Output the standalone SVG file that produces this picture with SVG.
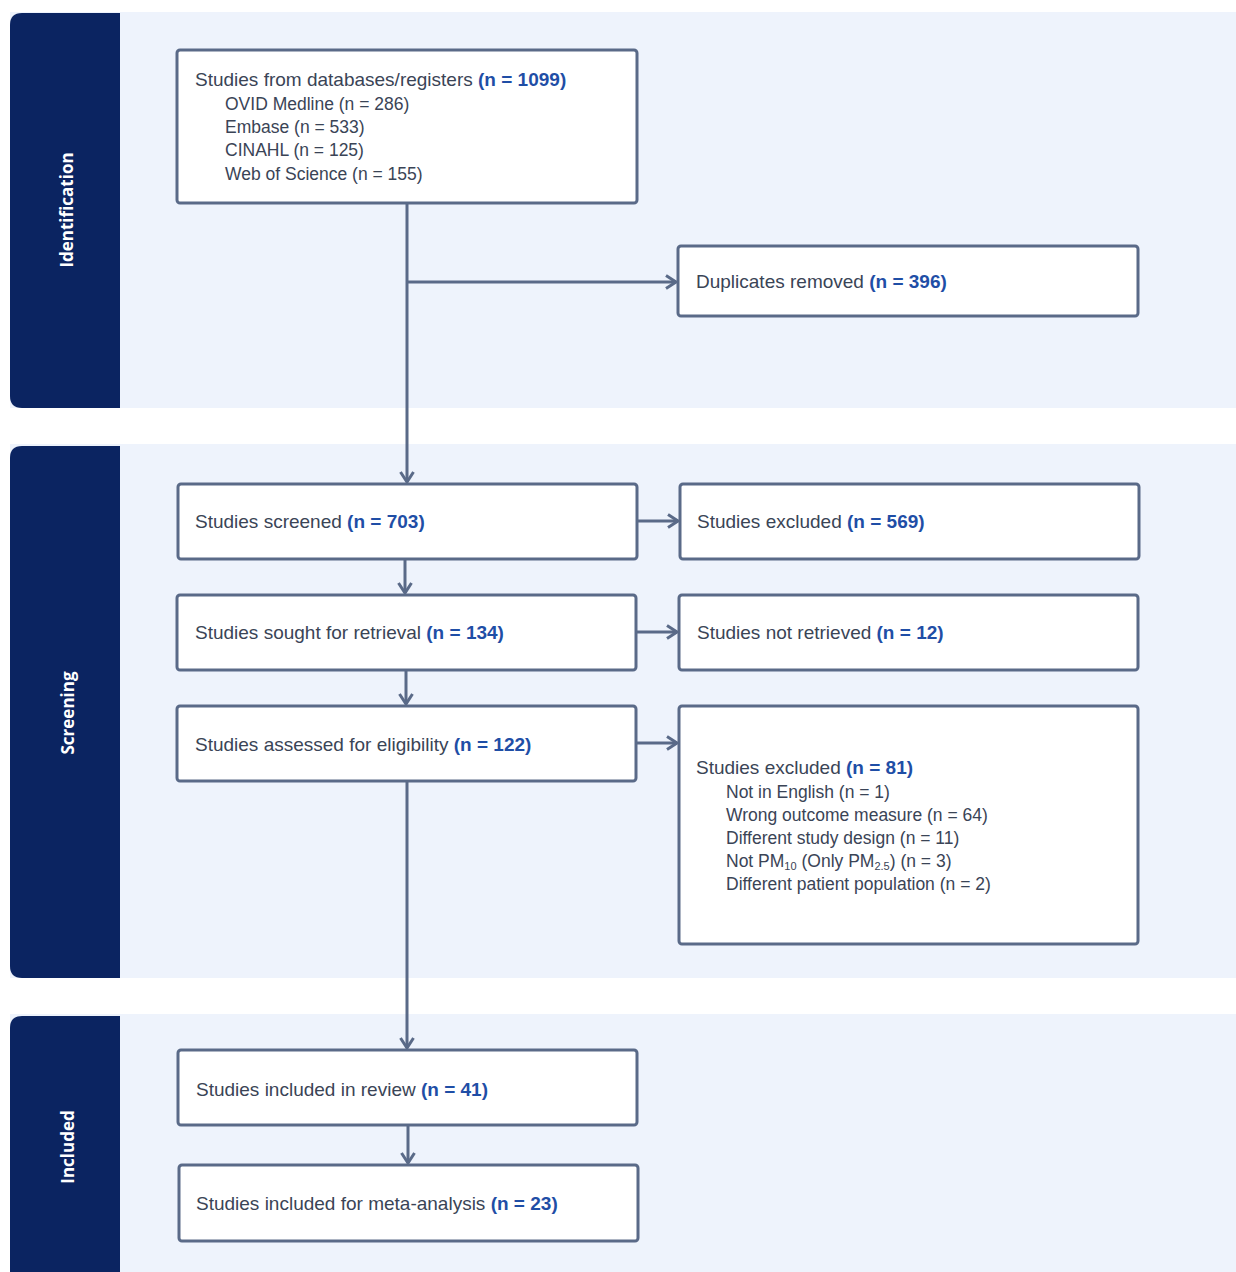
<svg xmlns="http://www.w3.org/2000/svg" width="1236" height="1272" viewBox="0 0 1236 1272">
<defs>
<style>
.band{fill:#eef3fc}
.side{fill:#0b2461}
.box{fill:#ffffff;stroke:#5a6a88;stroke-width:3}
.lbl{font-family:"Liberation Sans",Arial,sans-serif;font-size:19px;fill:#3a4456}
.sub{font-size:17.5px}
.n{font-weight:bold;fill:#1f4ea6}
.stage{font-family:"Open Sans","DejaVu Sans",sans-serif;font-size:17px;font-weight:bold;fill:#ffffff}
.conn{fill:none;stroke:#5a6a88;stroke-width:3}
</style>
<marker id="arr" viewBox="0 0 16 16" refX="14" refY="8" markerWidth="16" markerHeight="16" markerUnits="userSpaceOnUse" orient="auto">
<path d="M4,1.5 L14,8 L4,14.5" fill="none" stroke="#5a6a88" stroke-width="3"/>
</marker>
</defs>

<g id="bands">
<rect class="band" x="10" y="12" width="1226" height="396"/>
<rect class="band" x="10" y="444" width="1226" height="534"/>
<rect class="band" x="10" y="1014" width="1226" height="258"/>
</g>

<g id="stage-identification">
<path class="side" d="M22,13 H120 V408 H22 Q10,408 10,396 V25 Q10,13 22,13 Z"/>
<text class="stage" transform="translate(73,210) rotate(-90)" text-anchor="middle">Identification</text>
</g>
<g id="stage-screening">
<path class="side" d="M22,446 H120 V978 H22 Q10,978 10,966 V458 Q10,446 22,446 Z"/>
<text class="stage" transform="translate(74,713) rotate(-90)" text-anchor="middle">Screening</text>
</g>
<g id="stage-included">
<path class="side" d="M22,1016 H120 V1272 H10 V1028 Q10,1016 22,1016 Z"/>
<text class="stage" transform="translate(74,1147) rotate(-90)" text-anchor="middle">Included</text>
</g>

<g id="connectors">
<line class="conn" x1="407" y1="203" x2="407" y2="482" marker-end="url(#arr)"/>
<line class="conn" x1="407" y1="282" x2="676" y2="282" marker-end="url(#arr)"/>
<line class="conn" x1="637" y1="521" x2="678" y2="521" marker-end="url(#arr)"/>
<line class="conn" x1="405" y1="559" x2="405" y2="593" marker-end="url(#arr)"/>
<line class="conn" x1="636" y1="632" x2="677" y2="632" marker-end="url(#arr)"/>
<line class="conn" x1="406" y1="670" x2="406" y2="704" marker-end="url(#arr)"/>
<line class="conn" x1="636" y1="743" x2="677" y2="743" marker-end="url(#arr)"/>
<line class="conn" x1="407" y1="781" x2="407" y2="1048" marker-end="url(#arr)"/>
<line class="conn" x1="408" y1="1125" x2="408" y2="1163" marker-end="url(#arr)"/>
</g>

<g id="node-databases">
<rect class="box" x="177" y="50" width="460" height="153" rx="3"/>
<text class="lbl" x="195" y="86">Studies from databases/registers <tspan class="n">(n = 1099)</tspan></text>
<text class="lbl sub" x="225" y="110">OVID Medline (n = 286)</text>
<text class="lbl sub" x="225" y="133">Embase (n = 533)</text>
<text class="lbl sub" x="225" y="156">CINAHL (n = 125)</text>
<text class="lbl sub" x="225" y="180">Web of Science (n = 155)</text>
</g>

<g id="node-duplicates">
<rect class="box" x="678" y="246" width="460" height="70" rx="3"/>
<text class="lbl" x="696" y="288">Duplicates removed <tspan class="n">(n = 396)</tspan></text>
</g>

<g id="node-screened">
<rect class="box" x="178" y="484" width="459" height="75" rx="3"/>
<text class="lbl" x="195" y="528">Studies screened <tspan class="n">(n = 703)</tspan></text>
</g>

<g id="node-excluded-569">
<rect class="box" x="680" y="484" width="459" height="75" rx="3"/>
<text class="lbl" x="697" y="528">Studies excluded <tspan class="n">(n = 569)</tspan></text>
</g>

<g id="node-sought">
<rect class="box" x="177" y="595" width="459" height="75" rx="3"/>
<text class="lbl" x="195" y="639">Studies sought for retrieval <tspan class="n">(n = 134)</tspan></text>
</g>

<g id="node-not-retrieved">
<rect class="box" x="679" y="595" width="459" height="75" rx="3"/>
<text class="lbl" x="697" y="639">Studies not retrieved <tspan class="n">(n = 12)</tspan></text>
</g>

<g id="node-assessed">
<rect class="box" x="177" y="706" width="459" height="75" rx="3"/>
<text class="lbl" x="195" y="751">Studies assessed for eligibility <tspan class="n">(n = 122)</tspan></text>
</g>

<g id="node-excluded-81">
<rect class="box" x="679" y="706" width="459" height="238" rx="3"/>
<text class="lbl" x="696" y="774">Studies excluded <tspan class="n">(n = 81)</tspan></text>
<text class="lbl sub" x="726" y="798">Not in English (n = 1)</text>
<text class="lbl sub" x="726" y="821">Wrong outcome measure (n = 64)</text>
<text class="lbl sub" x="726" y="844">Different study design (n = 11)</text>
<text class="lbl sub" x="726" y="867">Not PM<tspan font-size="11" dy="3">10</tspan><tspan dy="-3"> (Only PM</tspan><tspan font-size="11" dy="3">2.5</tspan><tspan dy="-3">) (n = 3)</tspan></text>
<text class="lbl sub" x="726" y="890">Different patient population (n = 2)</text>
</g>

<g id="node-included-review">
<rect class="box" x="178" y="1050" width="459" height="75" rx="3"/>
<text class="lbl" x="196" y="1096">Studies included in review <tspan class="n">(n = 41)</tspan></text>
</g>

<g id="node-meta">
<rect class="box" x="179" y="1165" width="459" height="76" rx="3"/>
<text class="lbl" x="196" y="1210">Studies included for meta-analysis <tspan class="n">(n = 23)</tspan></text>
</g>
</svg>
